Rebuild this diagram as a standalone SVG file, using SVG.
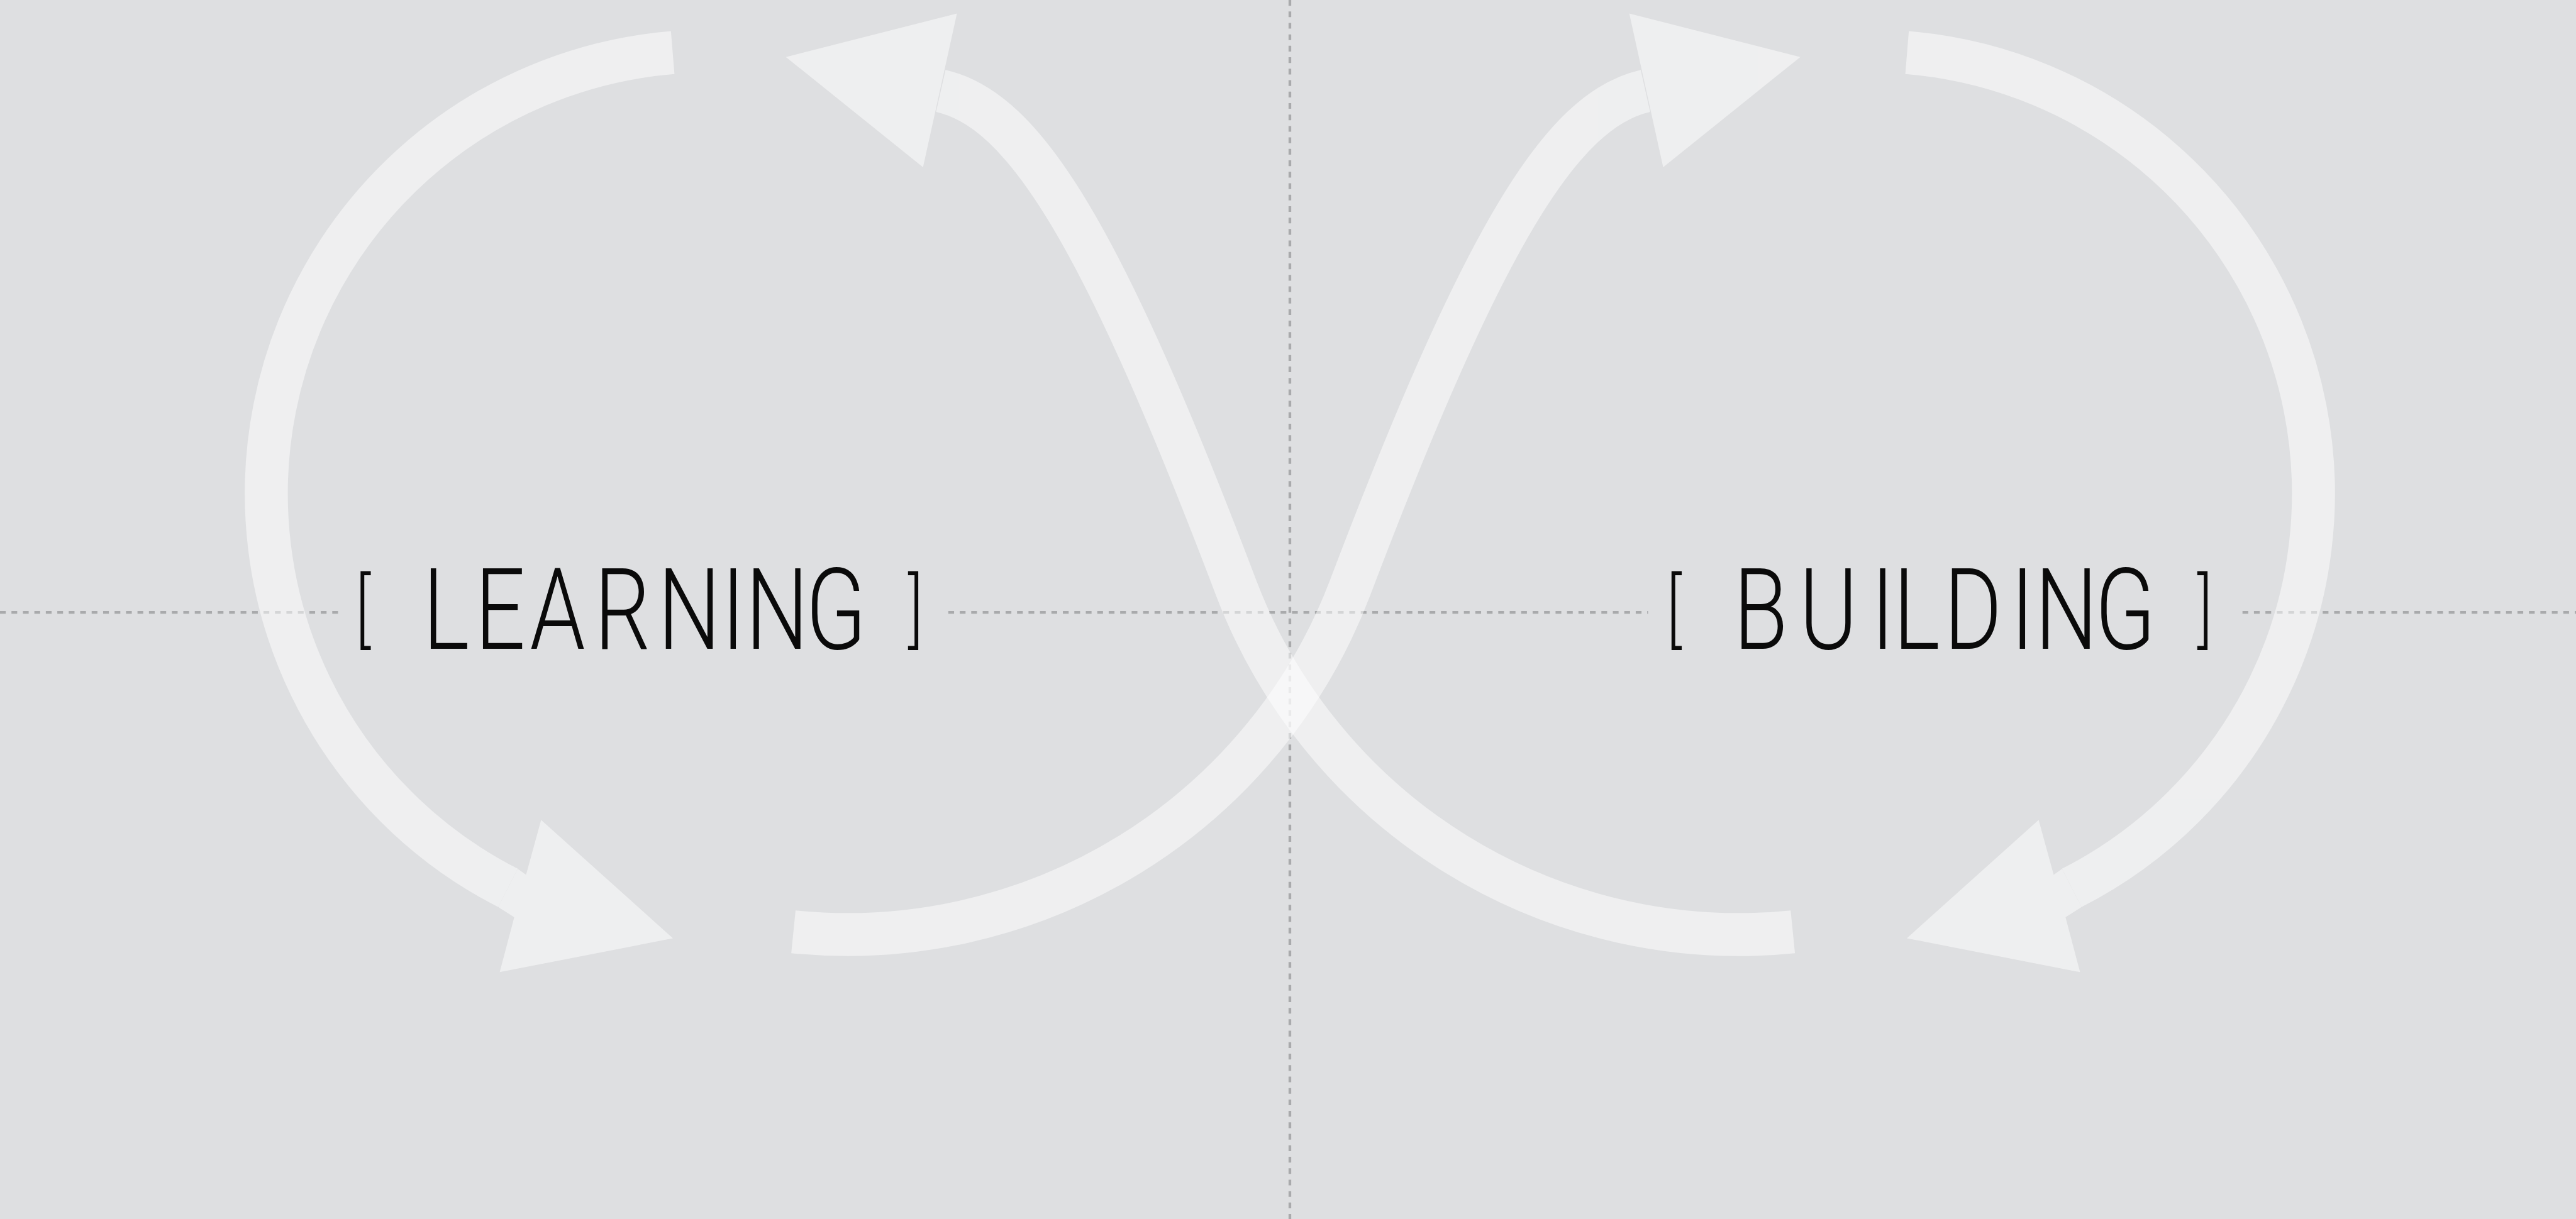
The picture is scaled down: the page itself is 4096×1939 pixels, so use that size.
<svg xmlns="http://www.w3.org/2000/svg" width="4096" height="1939" viewBox="0 0 4096 1939">
<defs>
<style>
.bg{fill:#dedfe1}
.guide{fill:none;stroke:#a9aaac;stroke-width:5;stroke-dasharray:10.7 10.6}
.arrow{opacity:0.5}
.band{fill:none;stroke:#ffffff;stroke-width:80;stroke-linecap:butt}
.head{fill:#ffffff;stroke:none}
.label{font-family:Roboto,"Open Sans","DejaVu Sans",sans-serif;font-weight:300;font-size:211px;fill:#0a0a0a}
.br{font-size:151px}
</style>
</defs>
<rect class="bg" x="0" y="0" width="4096" height="1939"/>
<g transform="scale(0.85529)">
  <g id="guides">
    <line class="guide" x1="2398" y1="0" x2="2398" y2="2267"/>
    <line class="guide" x1="0" y1="1139" x2="631" y2="1139"/>
    <line class="guide" x1="1763" y1="1139" x2="3064" y2="1139"/>
    <line class="guide" x1="4169" y1="1139" x2="4789" y2="1139"/>
  </g>
  <g id="connectors">
    <g id="loop-learning" class="arrow">
      <path class="band" d="M1250.6 97.8 A823 823 0 0 0 944.4 1651.3"/>
      <polygon class="head" points="962.5,1615.7 978,1627 1006,1525 1251,1745 929,1808 956,1706 926.2,1686.9"/>
    </g>
    <g id="loop-building" class="arrow" transform="translate(4796 0) scale(-1 1)">
      <path class="band" d="M1250.6 97.8 A823 823 0 0 0 944.4 1651.3"/>
      <polygon class="head" points="962.5,1615.7 978,1627 1006,1525 1251,1745 929,1808 956,1706 926.2,1686.9"/>
    </g>
    <g id="cross-to-learning" class="arrow">
      <path class="band" d="M3333 1733 A1000 1000 0 0 1 2298 1093 C2049.5 438.5 1905 204 1749 169"/>
      <polygon class="head" points="1779,25 1461,106 1716,311"/>
    </g>
    <g id="cross-to-building" class="arrow" transform="translate(4808 0) scale(-1 1)">
      <path class="band" d="M3333 1733 A1000 1000 0 0 1 2298 1093 C2049.5 438.5 1905 204 1749 169"/>
      <polygon class="head" points="1779,25 1461,106 1716,311"/>
    </g>
  </g>
  <g id="learning">
    <text class="label" transform="scale(0.78 1)"><tspan class="br" x="847.4" y="1185">[</tspan> <tspan x="1007.7 1132.1 1262.8 1416.7 1567.9 1719.2 1776.9 1920.5" y="1207">LEARNING</tspan> <tspan class="br" x="2164.1" y="1185">]</tspan></text>
  </g>
  <g id="building">
    <text class="label" transform="scale(0.78 1)"><tspan class="br" x="3971.8" y="1185">[</tspan> <tspan x="4132.1 4288.5 4459.0 4512.8 4633.3 4792.3 4850.0 4993.6" y="1207">BUILDING</tspan> <tspan class="br" x="5237.2" y="1185">]</tspan></text>
  </g>
</g>
</svg>
